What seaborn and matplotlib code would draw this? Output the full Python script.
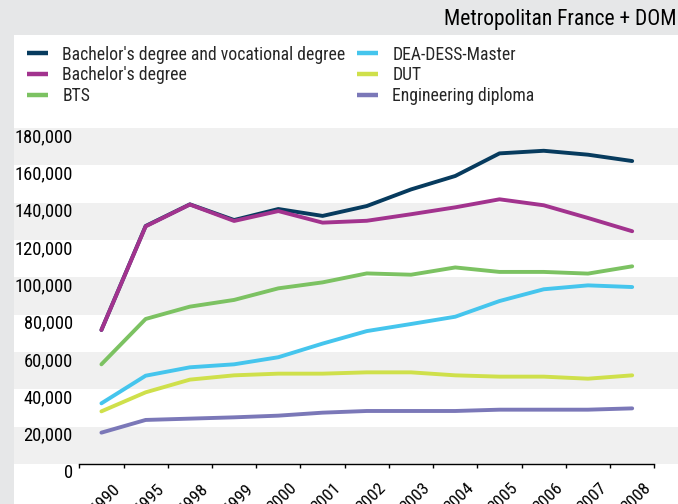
import numpy as np
import pandas as pd
import matplotlib
matplotlib.use("Agg")
import matplotlib.pyplot as plt
import seaborn as sns
from matplotlib.patches import Rectangle
from matplotlib.transforms import ScaledTranslation
from matplotlib.ticker import FuncFormatter

# Graduates per degree type
years = ["1990", "1995", "1998", "1999", "2000", "2001", "2002",
         "2003", "2004", "2005", "2006", "2007", "2008"]
bachelor_vocational = [71800, 127500, 139100, 130700, 136600, 132900, 138200,
                       147100, 154300, 166400, 167800, 165700, 162300]
bachelor = [71800, 127300, 139000, 130200, 135500, 129300, 130300,
            133800, 137500, 141800, 138600, 131800, 124700]
bts = [53400, 77700, 84300, 87900, 94100, 97300, 102100,
       101400, 105300, 102900, 102900, 102000, 105900]
master = [32500, 47300, 51800, 53400, 57200, 64500, 71200,
          75000, 78900, 87300, 93600, 95700, 94800]
dut = [28200, 38400, 45200, 47500, 48400, 48400, 49100,
       49100, 47500, 46800, 46800, 45700, 47500]
engineering = [16800, 23600, 24300, 25000, 25900, 27500, 28400,
               28400, 28400, 29100, 29100, 29100, 29800]

series_names = ["Bachelor's degree and vocational degree", "Bachelor's degree", "BTS",
                "DEA-DESS-Master", "DUT", "Engineering diploma"]
series_values = [bachelor_vocational, bachelor, bts, master, dut, engineering]
colors = ["#073b5e", "#a2338e", "#7cc262", "#45c5ed", "#cfe04b", "#7b78b8"]

df = pd.DataFrame([
    {"year": y, "degree": name, "graduates": v}
    for name, vals in zip(series_names, series_values)
    for y, v in zip(years, vals)
])

sns.set_theme(style="white")
plt.rcParams["font.family"] = ["Liberation Sans Narrow", "Roboto Condensed",
                               "Archivo Narrow", "DejaVu Sans"]

W, H = 678, 504
fig = plt.figure(figsize=(W / 100, H / 100), dpi=100, facecolor="#e6e7e8")
# white panel behind the chart
fig.patches.append(Rectangle((14 / W, 0), 1, (H - 35) / H, transform=fig.transFigure,
                             facecolor="white", edgecolor="none", zorder=-5))

ax_left, ax_right = 79.3, 654.3
ax = fig.add_axes([ax_left / W, 40 / H, (ax_right - ax_left) / W, 336 / H])
ax.set_facecolor("none")

# alternating horizontal bands spanning the panel width
span_w = ax_right - ax_left
for lo in range(0, 180000, 40000):
    ax.axhspan(lo, lo + 20000, xmin=(14 - ax_left) / span_w, xmax=(W - ax_left) / span_w,
               facecolor="#f0f0f0", edgecolor="none", zorder=0, clip_on=False)

sns.lineplot(data=df, x="year", y="graduates", hue="degree",
             hue_order=series_names, palette=dict(zip(series_names, colors)),
             sort=False, linewidth=2.8, ax=ax, legend=True,
             solid_capstyle="round", solid_joinstyle="round", zorder=3)

handles, labels = ax.get_legend_handles_labels()
ax.legend_.remove()
for h in handles:
    h.set_linewidth(3.2)
    h.set_solid_capstyle("butt")

ax.set_xlim(-0.5, len(years) - 0.5)
ax.set_ylim(0, 180000)
ax.set_xlabel("")
ax.set_ylabel("")

for s in ["left", "right", "top"]:
    ax.spines[s].set_visible(False)
ax.spines["bottom"].set_color("black")
ax.spines["bottom"].set_linewidth(1.0)

# category boundaries as tick marks, labels at category centres
ax.set_xticks(np.arange(-0.5, len(years), 1.0))
ax.set_xticklabels([])
ax.set_xticks(np.arange(len(years)), labels=years, minor=True)
ax.tick_params(axis="x", which="major", length=3, width=1, color="black", direction="out", bottom=True)
ax.tick_params(axis="x", which="minor", length=0, pad=12, labelsize=12.6, labelcolor="black")
for lbl in ax.get_xticklabels(minor=True):
    lbl.set_rotation(45)
    lbl.set_ha("right")
    lbl.set_va("top")
    lbl.set_rotation_mode("anchor")
    lbl.set_transform(lbl.get_transform() + ScaledTranslation(11 / 100, 0, fig.dpi_scale_trans))

ax.set_yticks(np.arange(0, 180001, 20000))
ax.yaxis.set_major_formatter(FuncFormatter(lambda v, p: f"{int(v):,}"))
ax.tick_params(axis="y", length=0, pad=4.8, labelsize=13.3, labelcolor="black")
for lbl in ax.get_yticklabels():
    lbl.set_va("top")

# two legend columns placed independently
legend_kw = dict(loc="upper left", frameon=False, fontsize=12.7, handlelength=1.2,
                 handletextpad=0.8, labelspacing=0.17, borderaxespad=0, borderpad=0)
fig.legend(handles[:3], labels[:3], bbox_to_anchor=(27 / W, 1 - 45.5 / H), **legend_kw)
fig.legend(handles[3:], labels[3:], bbox_to_anchor=(357 / W, 1 - 45.5 / H), **legend_kw)

fig.text(676 / W, 1 - 20 / H, "Metropolitan France + DOM", ha="right", va="center",
         fontsize=15.5, color="black")

fig.savefig("out.png", dpi=100, facecolor=fig.get_facecolor())
